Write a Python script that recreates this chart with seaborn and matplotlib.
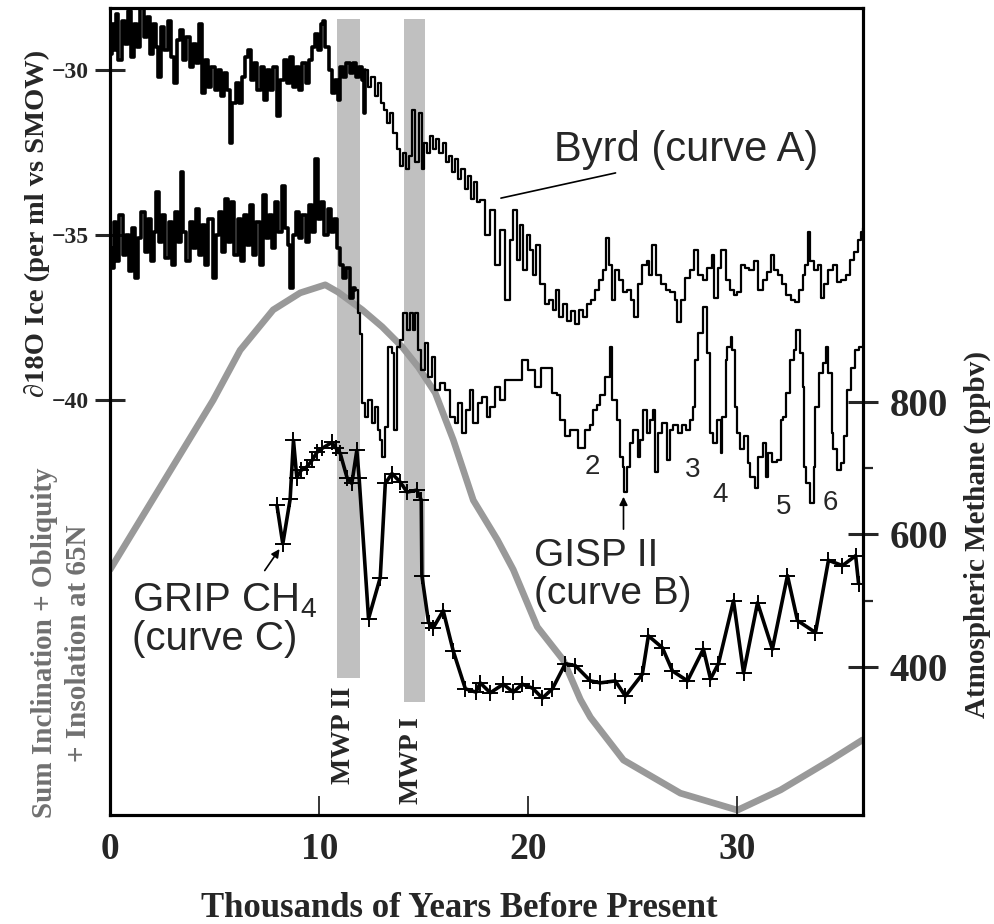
import matplotlib
matplotlib.use("Agg")
import matplotlib.pyplot as plt
import numpy as np
import pandas as pd
import seaborn as sns

# ---------------- data ----------------
# Byrd (curve A), d18O (per mil) vs age (kyr BP)
byrd_age = [0.0, 0.1, 0.2, 0.3, 0.4, 0.55, 0.7, 0.85, 1.0, 1.15, 1.3, 1.45, 1.6, 1.75, 1.9, 2.05, 2.2, 2.3, 2.45, 2.6,
            2.75, 2.9, 3.05, 3.2, 3.35, 3.5, 3.65, 3.8, 3.95, 4.1, 4.25, 4.4, 4.55, 4.7, 4.85, 5.0, 5.15, 5.3, 5.45, 5.6,
            5.74, 5.85, 6.0, 6.15, 6.3, 6.45, 6.6, 6.75, 6.9, 7.05, 7.2, 7.35, 7.5, 7.65, 7.8, 8.0, 8.15, 8.3, 8.45, 8.6,
            8.75, 8.9, 9.05, 9.2, 9.35, 9.5, 9.65, 9.8, 9.95, 10.1, 10.2, 10.3, 10.45, 10.6, 10.75, 10.9, 11.0, 11.15, 11.3, 11.45,
            11.6, 11.75, 11.9, 12.05, 12.12, 12.2, 12.35, 12.5, 12.65, 12.8, 12.95, 13.1, 13.25, 13.4, 13.55, 13.7, 13.85, 14.0, 14.15, 14.3,
            14.45, 14.6, 14.75, 14.9, 15.0, 15.15, 15.3, 15.45, 15.6, 15.75, 15.9, 16.05, 16.2, 16.35, 16.5, 16.65, 16.8, 16.95, 17.1, 17.25,
            17.4, 17.55,
            17.70, 17.94, 18.18, 18.42, 18.66, 18.90, 19.14, 19.28, 19.47, 19.62, 19.76, 19.95, 20.10, 20.24, 20.38, 20.57, 20.81, 21.0, 21.2, 21.34,
            21.48, 21.67, 21.87, 22.06, 22.25, 22.44, 22.63, 22.82, 23.01, 23.21, 23.4, 23.59, 23.73, 23.88, 24.02, 24.16, 24.35, 24.55, 24.74, 24.93,
            25.07, 25.26, 25.45, 25.65, 25.79, 25.93, 26.12, 26.32, 26.56, 26.79, 26.99, 27.13, 27.32, 27.51, 27.75, 27.94, 28.13, 28.33, 28.56, 28.76,
            28.90, 29.09, 29.23, 29.43, 29.62, 29.81, 30.0, 30.19, 30.38, 30.57, 30.81, 31.0, 31.2, 31.39, 31.58, 31.77, 31.96, 32.15, 32.34, 32.54,
            32.73, 32.92, 33.11, 33.25, 33.35, 33.49, 33.64, 33.83, 33.97, 34.16, 34.35, 34.55, 34.74, 34.93, 35.17, 35.36, 35.55, 35.74, 35.89, 35.98]
byrd_d18o = [-29.5, -28.6, -29.4, -28.3, -29.7, -28.5, -29.2, -28.2, -29.6, -28.6, -29.3, -28.1, -29.0, -28.4, -29.5, -28.6, -29.3, -30.2, -28.7, -29.4,
             -28.5, -29.6, -30.4, -29.1, -28.8, -29.7, -29.0, -29.9, -29.2, -29.8, -28.6, -30.7, -29.7, -30.5, -29.9, -30.6, -30.0, -30.8, -30.1, -30.6,
             -32.2, -31.0, -30.4, -31.0, -30.2, -29.6, -29.4, -30.3, -29.8, -30.6, -29.9, -30.9, -30.0, -30.6, -29.9, -31.4, -30.3, -29.7, -30.4, -29.6,
             -30.5, -29.9, -30.6, -29.8, -30.4, -29.7, -29.3, -28.9, -29.4, -28.6, -28.5, -29.3, -30.0, -30.7, -30.3, -30.9, -29.9, -30.2, -29.8, -30.1,
             -29.8, -30.2, -29.9, -30.3, -31.3, -30.0, -30.5, -30.2, -30.8, -30.4, -31.0, -31.2, -31.6, -31.3, -31.9, -32.4, -32.9, -32.5, -33.0, -32.6,
             -31.2, -32.8, -31.3, -33.0, -32.2, -32.5, -32.0, -32.4, -32.1, -32.5, -32.2, -32.8, -32.6, -33.1, -32.7, -33.3, -33.0, -33.6, -33.2, -33.9,
             -33.4, -34.0,
             -33.94, -35.0, -34.24, -35.9, -34.85, -36.97, -35.15, -34.24, -35.76, -34.7, -36.06, -35.0, -35.45, -36.2, -35.3, -36.5, -37.1, -36.97, -37.27, -36.67,
             -37.5, -37.1, -37.6, -37.3, -37.7, -37.27, -37.5, -37.1, -36.97, -36.67, -36.36, -36.06, -35.09, -35.9, -36.97, -36.06, -36.36, -36.73, -36.67, -36.97,
             -37.5, -36.5, -35.9, -35.8, -36.2, -35.3, -36.2, -36.5, -36.67, -36.73, -36.97, -37.64, -36.97, -36.3, -36.06, -35.45, -36.2, -36.36, -36.0, -35.6,
             -36.9, -36.0, -35.45, -36.36, -36.67, -36.82, -36.73, -35.9, -36.0, -36.06, -35.8, -36.67, -36.36, -36.12, -35.6, -36.06, -36.2, -36.5, -36.82, -36.97,
             -37.03, -36.67, -36.2, -35.9, -34.9, -35.8, -36.06, -35.9, -36.9, -36.5, -36.06, -35.9, -36.42, -36.36, -36.2, -35.76, -35.5, -35.15, -34.9, -34.8]

# GISP II (curve B)
gisp_age = [0.0, 0.1, 0.2, 0.3, 0.45, 0.6, 0.75, 0.9, 1.05, 1.2, 1.35, 1.5, 1.65, 1.8, 1.95, 2.1, 2.2, 2.35, 2.5, 2.65,
            2.8, 2.95, 3.1, 3.25, 3.4, 3.5, 3.65, 3.8, 3.95, 4.1, 4.25, 4.4, 4.55, 4.7, 4.9, 5.05, 5.2, 5.35, 5.5, 5.65,
            5.8, 5.95, 6.1, 6.25, 6.4, 6.55, 6.7, 6.85, 7.0, 7.15, 7.3, 7.45, 7.6, 7.75, 7.9, 8.05, 8.2, 8.35, 8.5, 8.6,
            8.75, 8.9, 9.05, 9.2, 9.35, 9.5, 9.65, 9.8, 9.95, 10.1, 10.25, 10.4, 10.55, 10.7, 10.85, 11.0, 11.15, 11.3, 11.45, 11.6,
            11.72, 11.87, 11.96, 12.06, 12.2, 12.34, 12.54, 12.68, 12.82, 12.92, 13.01, 13.16, 13.3, 13.49, 13.59, 13.73, 13.88, 14.02, 14.21, 14.35,
            14.5, 14.59, 14.74, 14.88, 15.07, 15.22, 15.41, 15.55, 15.79, 16.03, 16.27, 16.51, 16.65, 16.84, 17.03, 17.22, 17.37, 17.61, 17.8, 18.04,
            18.18, 18.42, 18.66, 18.9, 19.14, 19.52, 19.71, 20.0, 20.33, 20.62, 20.91, 21.15, 21.39, 21.53, 21.77, 22.01, 22.39, 22.73, 22.97, 23.11,
            23.3, 23.44, 23.68, 23.92, 24.02, 24.26, 24.4, 24.55, 24.59, 24.74, 24.88, 25.02, 25.22, 25.36, 25.5, 25.69, 25.84, 25.98, 26.08, 26.22,
            26.41, 26.65, 26.79, 26.94, 27.18, 27.37, 27.56, 27.75, 27.89, 27.99, 28.13, 28.33, 28.47, 28.56, 28.71, 28.85, 29.04, 29.19, 29.28, 29.43,
            29.52, 29.67, 29.76, 29.9, 30.0, 30.14, 30.29, 30.48, 30.62, 30.86, 31.0, 31.2, 31.34, 31.48, 31.67, 31.91, 32.06, 32.2, 32.34, 32.49,
            32.68, 32.82, 32.97, 33.11, 33.16, 33.3, 33.49, 33.64, 33.73, 33.88, 34.07, 34.21, 34.35, 34.5, 34.59, 34.74, 34.93, 35.07, 35.22, 35.41,
            35.6, 35.79, 35.98]
gisp_d18o = [-35.4, -36.0, -34.6, -35.8, -34.4, -35.6, -35.0, -36.1, -34.8, -36.3, -35.1, -34.3, -35.5, -34.5, -35.8, -34.9, -33.7, -35.2, -34.4, -35.7,
             -34.6, -35.9, -34.3, -35.2, -33.1, -34.9, -35.8, -34.6, -35.4, -34.2, -35.6, -34.7, -35.9, -34.5, -36.3, -35.0, -34.3, -35.5, -33.9, -35.2,
             -34.0, -35.6, -34.5, -35.8, -34.4, -35.3, -34.1, -35.6, -34.6, -35.9, -33.8, -35.1, -34.4, -35.4, -34.0, -34.9, -33.5, -34.8, -35.3, -36.6,
             -35.0, -34.3, -35.1, -34.4, -35.2, -34.1, -34.9, -32.7, -34.5, -34.0, -35.0, -34.2, -34.9, -34.5, -35.4, -35.9, -36.3, -36.0, -36.9, -36.6,
             -36.67, -37.36, -38.0, -40.09, -40.52, -40.0, -40.7, -40.2, -40.91, -41.2, -41.73, -40.82, -38.39, -38.58, -40.91, -38.39, -38.18, -37.36, -37.88, -37.36,
             -37.88, -37.36, -38.48, -39.09, -38.27, -39.3, -38.7, -39.7, -39.48, -39.7, -40.52, -40.7, -40.09, -41.0, -40.3, -39.7, -40.7, -40.09, -39.91, -40.52,
             -40.21, -39.6, -40.0, -39.39, -39.4, -39.39, -38.79, -39.09, -39.6, -39.03, -39.03, -39.79, -39.85, -40.6, -41.1, -40.91, -41.45, -40.91, -40.76, -40.3,
             -40.15, -39.85, -39.3, -38.4, -40.0, -40.6, -41.73, -42.03, -42.79, -42.03, -41.3, -40.91, -41.73, -41.2, -40.3, -41.0, -40.6, -40.3, -42.18, -41.0,
             -40.7, -41.82, -40.91, -40.76, -41.0, -40.76, -40.91, -40.6, -40.21, -38.79, -37.97, -37.18, -37.18, -38.58, -41.0, -41.3, -40.6, -41.6, -40.52, -38.79,
             -38.39, -38.09, -38.48, -40.21, -41.0, -41.5, -41.1, -41.9, -42.33, -42.67, -41.73, -41.3, -42.33, -41.6, -41.88, -41.82, -40.6, -40.52, -39.79, -38.79,
             -38.48, -37.88, -38.58, -39.6, -42.03, -42.52, -43.12, -42.03, -40.21, -39.18, -38.88, -38.39, -39.18, -41.0, -41.5, -42.12, -41.9, -41.1, -39.7, -39.03,
             -38.48, -38.39, -38.39]

# GRIP CH4 (curve C), ppbv
ch4_age = [7.98, 8.26, 8.61, 8.77, 8.93, 9.14, 9.41, 9.66, 9.89, 10.14, 10.61, 10.81, 11.0, 11.33, 11.56, 11.80, 11.91,
           12.36, 12.92, 13.16, 13.48, 13.88, 14.2, 14.67, 14.88, 14.91, 15.23, 15.45, 15.93, 16.41, 16.99, 17.5,
           17.70, 18.18, 18.80, 19.28, 19.71, 20.2, 20.67, 21.15, 21.77, 22.25, 22.97, 23.44, 24.16, 24.64, 25.45, 25.74,
           26.41, 26.89, 27.61, 28.37, 28.71, 29.09, 29.81, 30.29, 30.96, 31.67, 32.39, 32.87, 33.73, 34.35, 35.02, 35.65, 35.79]
ch4_ppbv = [644, 586, 653, 742, 686, 697, 702, 712, 724, 730, 739, 730, 723, 686, 677, 727, 685,
            473, 535, 677, 692, 679, 664, 667, 652, 538, 467, 459, 485, 424, 367, 362,
            376, 361, 374, 362, 374, 368, 353, 367, 405, 402, 379, 376, 379, 356, 389, 447,
            429, 394, 379, 427, 382, 405, 500, 391, 497, 427, 538, 470, 452, 561, 553, 568, 526]

# Insolation (arbitrary units)
ins_age = [0.0, 4.93, 6.22, 7.8, 9.09, 10.29, 10.9, 12.06, 13.01, 13.97, 14.74, 15.55, 16.41, 17.37, 18.52,
           19.28, 20.43, 21.67, 22.49, 22.97, 24.55, 27.27, 30.0, 32.06, 34.45, 35.98]
ins_val = [30.4, 51.4, 57.6, 62.6, 64.7, 65.7, 64.8, 62.6, 60.5, 58.0, 55.5, 52.3, 46.5, 39.0, 34.1,
           30.4, 23.3, 19.2, 14.3, 12.1, 6.8, 2.7, 0.6, 3.1, 6.8, 9.3]

# Meltwater pulses
mwp_labels = ["MWP II", "MWP I"]
mwp_start = [10.85, 14.05]
mwp_end = [11.95, 15.05]

d18o_ticks = [-40, -35, -30]
ch4_ticks = [400, 600, 800]
ch4_minor = [500, 700]
age_ticks = [0, 10, 20, 30]
event_labels = ["2", "3", "4", "5", "6"]
event_age = [23.06, 27.85, 29.19, 32.2, 34.45]
event_d18o = [-42.03, -42.12, -42.88, -43.24, -43.12]

# ---------------- style ----------------
sns.set_style("ticks")
SERIF = ['Liberation Serif', 'DejaVu Serif']
SANS = ['Liberation Sans', 'DejaVu Sans']
plt.rcParams['font.family'] = SERIF
plt.rcParams['font.weight'] = 'bold'
plt.rcParams['axes.unicode_minus'] = True

byrd_df = pd.DataFrame({"age": byrd_age, "d18o": byrd_d18o})
gisp_df = pd.DataFrame({"age": gisp_age, "d18o": gisp_d18o})
ch4_df = pd.DataFrame({"age": ch4_age, "ch4": ch4_ppbv})
ins_df = pd.DataFrame({"age": ins_age, "ins": ins_val})

fig = plt.figure(figsize=(9.95, 9.24), dpi=100)
ax = fig.add_axes([0.1106, 0.118, 0.7567, 0.8733])
ax3 = ax.twinx()
ax2 = ax.twinx()
ax3.set_zorder(0)
ax.set_zorder(1)
ax2.set_zorder(2)
ax.patch.set_visible(False)
ax2.patch.set_visible(False)

# bands + insolation on bottom axis
ax3.axvspan(mwp_start[0], mwp_end[0], ymin=0.170, ymax=0.986, color='#c0c0c0', lw=0)
ax3.axvspan(mwp_start[1], mwp_end[1], ymin=0.140, ymax=0.986, color='#c0c0c0', lw=0)
sns.lineplot(data=ins_df, x="age", y="ins", ax=ax3, color='#999999', lw=4.8,
             estimator=None, sort=False)
ax3.set_ylim(0, 100)
ax3.set_yticks([])
ax3.set_ylabel('')
ax3.text(11.15, 0.159, mwp_labels[0], transform=ax3.get_xaxis_transform(), rotation=90,
         ha='center', va='top', fontsize=20, fontweight='bold')
ax3.text(14.4, 0.121, mwp_labels[1], transform=ax3.get_xaxis_transform(), rotation=90,
         ha='center', va='top', fontsize=20, fontweight='bold')

# d18O curves: dense (young) part drawn heavier, like the original scan
for df, split in ((byrd_df, 12.2), (gisp_df, 11.72)):
    young = df[df["age"] <= split]
    old = df[df["age"] >= split - 0.3]
    sns.lineplot(data=young, x="age", y="d18o", ax=ax, color='black', lw=2.6,
                 drawstyle='steps-post', estimator=None, sort=False)
    sns.lineplot(data=old, x="age", y="d18o", ax=ax, color='black', lw=1.6,
                 drawstyle='steps-post', estimator=None, sort=False)
ax.set_xlim(0, 36)
ax.set_ylim(-52.58, -28.12)
ax.set_yticks(d18o_ticks)
ax.set_xticks(age_ticks)
ax.set_xlabel('')
ax.set_ylabel('')
ax.tick_params(axis='y', which='major', direction='inout', length=21, width=2.2,
               labelsize=17, pad=5, left=True, right=False)
ax.tick_params(axis='x', which='major', direction='in', length=14, width=1.3,
               labelsize=27, pad=12, bottom=True, top=False)

# methane
sns.lineplot(data=ch4_df, x="age", y="ch4", ax=ax2, color='black', lw=2.6,
             marker='+', markersize=11, markeredgewidth=1.4, markeredgecolor='black',
             estimator=None, sort=False)
ax2.set_ylim(176.6, 1394.7)
ax2.set_yticks(ch4_ticks)
ax2.set_yticks(ch4_minor, minor=True)
ax2.set_ylabel('')
ax2.tick_params(axis='y', which='major', direction='inout', length=21, width=2.2,
                labelsize=28, pad=8.5, right=True, left=False)
ax2.tick_params(axis='y', which='minor', direction='out', length=7, width=1.6,
                right=True, left=False)

for a in (ax, ax2, ax3):
    for sp in a.spines.values():
        sp.set_visible(True)
        sp.set_linewidth(2.2)
        sp.set_color('black')

# annotations
ax.text(27.55, -32.42, "Byrd (curve A)", ha='center', va='center', fontsize=30,
        family=SANS, fontweight='normal')
ax.annotate('', xy=(18.56, -33.9), xytext=(24.3, -33.1),
            arrowprops=dict(arrowstyle='-', color='black', lw=1.2))
ax.text(20.25, -45.3, "GISP II\n(curve B)", ha='left', va='center', fontsize=28,
        family=SANS, fontweight='normal', linespacing=1.05)
ax.annotate('', xy=(24.55, -42.85), xytext=(24.55, -44.0),
            arrowprops=dict(arrowstyle='-|>', color='black', lw=1.2, mutation_scale=12))
ax.text(1.05, -46.67, "GRIP CH$_\\mathregular{4}$\n(curve C)", ha='left', va='center', fontsize=29,
        family=SANS, fontweight='normal', linespacing=1.0)
ax.annotate('', xy=(8.18, -44.45), xytext=(7.32, -45.24),
            arrowprops=dict(arrowstyle='-|>', color='black', lw=1.2, mutation_scale=12))
for lab, xa, ya in zip(event_labels, event_age, event_d18o):
    ax.text(xa, ya, lab, ha='center', va='center', fontsize=20, family=SANS, fontweight='normal')

# axis titles
fig.text(0.037, 0.758, "\u220218O Ice (per ml vs SMOW)", rotation=90, ha='center', va='center',
         fontsize=20.5, fontweight='bold')
fig.text(0.062, 0.304, "Sum Inclination + Obliquity\n+ Insolation at 65N", rotation=90,
         ha='center', va='center', fontsize=21, fontweight='bold', color='#707070',
         linespacing=1.35, multialignment='center')
fig.text(0.982, 0.421, "Atmospheric Methane (ppbv)", rotation=90, ha='center', va='center',
         fontsize=21, fontweight='bold')
fig.text(0.462, 0.0173, "Thousands of Years Before Present", ha='center', va='center',
         fontsize=25, fontweight='bold')

fig.savefig("out.png", dpi=100)
